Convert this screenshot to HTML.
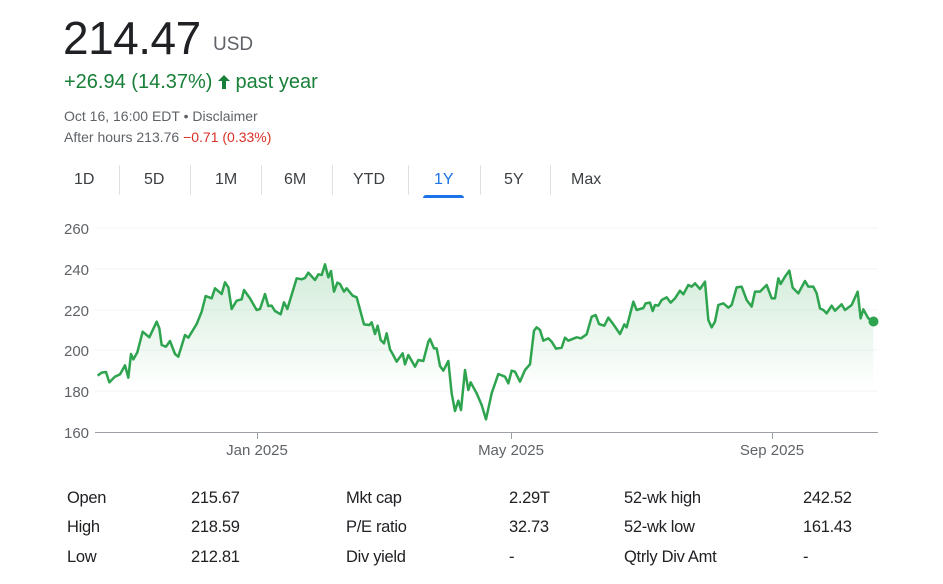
<!DOCTYPE html>
<html><head><meta charset="utf-8"><style>
body{margin:0;width:943px;height:584px;background:#fff;font-family:"Liberation Sans",Arial,sans-serif;position:relative;overflow:hidden}
.a{position:absolute;white-space:nowrap}
.t{position:absolute;top:171px;font-size:16px;color:#3c4043}
.sep{position:absolute;top:165px;width:1px;height:30px;background:#e0e0e0}
.s{position:absolute;font-size:16.5px;color:#202124;letter-spacing:-0.3px}
</style></head><body>
<div class="a" style="left:63px;top:11px;font-size:46px;color:#202124;letter-spacing:-0.5px">214.47</div>
<div class="a" style="left:213px;top:34px;font-size:19px;color:#5f6368">USD</div>
<div class="a" style="left:64px;top:71px;font-size:20px;color:#188038">+26.94 (14.37%) <svg width="12" height="14" viewBox="0 0 12 14" style="vertical-align:-1px"><path d="M6 0 L12 6 L8 6 L8 14 L4 14 L4 6 L0 6 Z" fill="#188038"/></svg> past year</div>
<div class="a" style="left:64px;top:108px;font-size:14px;color:#5f6368">Oct 16, 16:00 EDT • Disclaimer</div>
<div class="a" style="left:64px;top:129px;font-size:14px;color:#5f6368">After hours 213.76 <span style="color:#d93025">−0.71 (0.33%)</span></div>

<div class="t" style="left:74px">1D</div><div class="sep" style="left:119px"></div>
<div class="t" style="left:144px">5D</div><div class="sep" style="left:190px"></div>
<div class="t" style="left:215px">1M</div><div class="sep" style="left:261px"></div>
<div class="t" style="left:284px">6M</div><div class="sep" style="left:332px"></div>
<div class="t" style="left:353px">YTD</div><div class="sep" style="left:408px"></div>
<div class="t" style="left:434px;color:#1a73e8">1Y</div>
<div class="a" style="left:423px;top:195px;width:41px;height:3px;background:#1a73e8;border-radius:3px 3px 0 0"></div>
<div class="sep" style="left:480px"></div>
<div class="t" style="left:504px">5Y</div><div class="sep" style="left:550px"></div>
<div class="t" style="left:571px">Max</div>

<svg class="a" style="left:0;top:0" width="943" height="470">
<defs><linearGradient id="g" x1="0" y1="0" x2="0" y2="1"><stop offset="0" stop-color="#34a853" stop-opacity="0.22"/><stop offset="0.75" stop-color="#34a853" stop-opacity="0"/></linearGradient></defs>
<g stroke="#f1f3f4" stroke-width="1">
<line x1="95" y1="228" x2="878" y2="228"/><line x1="95" y1="269" x2="878" y2="269"/><line x1="95" y1="310" x2="878" y2="310"/><line x1="95" y1="350" x2="878" y2="350"/><line x1="95" y1="391" x2="878" y2="391"/>
</g>
<line x1="95" y1="432.5" x2="878" y2="432.5" stroke="#9aa0a6" stroke-width="1"/>
<g stroke="#9aa0a6"><line x1="257.5" y1="432" x2="257.5" y2="439"/><line x1="511.5" y1="432" x2="511.5" y2="439"/><line x1="772.5" y1="432" x2="772.5" y2="439"/></g>
<g font-size="15" fill="#5f6368">
<text x="64" y="234">260</text><text x="64" y="275">240</text><text x="64" y="316">220</text><text x="64" y="356">200</text><text x="64" y="397">180</text><text x="64" y="438">160</text>
<text x="257" y="455" text-anchor="middle">Jan 2025</text><text x="511" y="455" text-anchor="middle">May 2025</text><text x="772" y="455" text-anchor="middle">Sep 2025</text>
</g>
<g transform="translate(60,210) scale(0.33333)">
<path fill="url(#g)" d="M113,497 L125,488 138,486 148,517 165,500 180,493 195,466 205,503 213,432 220,448 232,427 248,365 268,382 290,335 298,355 305,405 318,410 330,393 345,432 355,440 375,375 385,383 410,342 425,305 437,258 455,265 465,235 485,252 495,217 505,232 515,297 530,272 545,268 552,240 570,265 590,300 600,297 615,252 625,288 635,287 645,303 662,313 672,277 682,297 710,205 725,208 735,204 745,188 765,210 775,193 785,195 795,163 805,202 813,183 822,245 832,218 840,222 852,245 860,235 878,257 890,262 912,343 928,345 935,337 945,372 953,347 962,390 972,400 980,370 990,418 998,432 1010,455 1028,430 1035,463 1045,435 1065,470 1075,450 1090,453 1105,395 1110,387 1122,415 1130,415 1140,468 1150,482 1165,453 1175,550 1185,603 1195,572 1203,600 1215,480 1225,540 1232,517 1250,550 1265,585 1278,628 1295,550 1315,492 1335,500 1345,520 1355,482 1365,485 1380,515 1395,480 1410,463 1422,362 1430,352 1440,360 1450,392 1465,385 1475,395 1488,416 1505,413 1515,383 1525,392 1550,382 1563,385 1580,373 1595,320 1607,315 1617,342 1633,347 1645,323 1658,340 1680,372 1693,343 1700,352 1720,275 1730,300 1750,294 1757,280 1770,278 1778,303 1785,285 1795,287 1805,270 1820,262 1832,278 1845,265 1860,242 1870,253 1885,225 1895,230 1905,220 1920,237 1935,215 1945,330 1955,352 1965,335 1975,285 1990,280 2005,293 2015,285 2030,232 2045,230 2060,270 2075,290 2085,245 2100,245 2120,225 2135,265 2145,265 2155,205 2162,222 2175,200 2188,182 2198,233 2215,250 2235,213 2245,230 2260,230 2270,250 2280,295 2290,300 2300,310 2315,287 2325,302 2345,283 2355,300 2375,285 2393,245 2402,325 2410,298 2425,325 2440,335 L2440,666 L113,666 Z"/>
<path fill="none" stroke="#2ea44f" stroke-width="7.5" stroke-linejoin="round" d="M113,497 L125,488 138,486 148,517 165,500 180,493 195,466 205,503 213,432 220,448 232,427 248,365 268,382 290,335 298,355 305,405 318,410 330,393 345,432 355,440 375,375 385,383 410,342 425,305 437,258 455,265 465,235 485,252 495,217 505,232 515,297 530,272 545,268 552,240 570,265 590,300 600,297 615,252 625,288 635,287 645,303 662,313 672,277 682,297 710,205 725,208 735,204 745,188 765,210 775,193 785,195 795,163 805,202 813,183 822,245 832,218 840,222 852,245 860,235 878,257 890,262 912,343 928,345 935,337 945,372 953,347 962,390 972,400 980,370 990,418 998,432 1010,455 1028,430 1035,463 1045,435 1065,470 1075,450 1090,453 1105,395 1110,387 1122,415 1130,415 1140,468 1150,482 1165,453 1175,550 1185,603 1195,572 1203,600 1215,480 1225,540 1232,517 1250,550 1265,585 1278,628 1295,550 1315,492 1335,500 1345,520 1355,482 1365,485 1380,515 1395,480 1410,463 1422,362 1430,352 1440,360 1450,392 1465,385 1475,395 1488,416 1505,413 1515,383 1525,392 1550,382 1563,385 1580,373 1595,320 1607,315 1617,342 1633,347 1645,323 1658,340 1680,372 1693,343 1700,352 1720,275 1730,300 1750,294 1757,280 1770,278 1778,303 1785,285 1795,287 1805,270 1820,262 1832,278 1845,265 1860,242 1870,253 1885,225 1895,230 1905,220 1920,237 1935,215 1945,330 1955,352 1965,335 1975,285 1990,280 2005,293 2015,285 2030,232 2045,230 2060,270 2075,290 2085,245 2100,245 2120,225 2135,265 2145,265 2155,205 2162,222 2175,200 2188,182 2198,233 2215,250 2235,213 2245,230 2260,230 2270,250 2280,295 2290,300 2300,310 2315,287 2325,302 2345,283 2355,300 2375,285 2393,245 2402,325 2410,298 2425,325 2440,335"/>
</g>
<circle cx="873.5" cy="321.5" r="5" fill="#2ea44f"/>
</svg>

<div class="s" style="left:67px;top:489px">Open</div><div class="s" style="left:191px;top:489px">215.67</div>
<div class="s" style="left:346px;top:489px">Mkt cap</div><div class="s" style="left:509px;top:489px">2.29T</div>
<div class="s" style="left:624px;top:489px">52-wk high</div><div class="s" style="left:803px;top:489px">242.52</div>
<div class="s" style="left:67px;top:518px">High</div><div class="s" style="left:191px;top:518px">218.59</div>
<div class="s" style="left:346px;top:518px">P/E ratio</div><div class="s" style="left:509px;top:518px">32.73</div>
<div class="s" style="left:624px;top:518px">52-wk low</div><div class="s" style="left:803px;top:518px">161.43</div>
<div class="s" style="left:67px;top:548px">Low</div><div class="s" style="left:191px;top:548px">212.81</div>
<div class="s" style="left:346px;top:548px">Div yield</div><div class="s" style="left:509px;top:548px">-</div>
<div class="s" style="left:624px;top:548px">Qtrly Div Amt</div><div class="s" style="left:803px;top:548px">-</div>
</body></html>
